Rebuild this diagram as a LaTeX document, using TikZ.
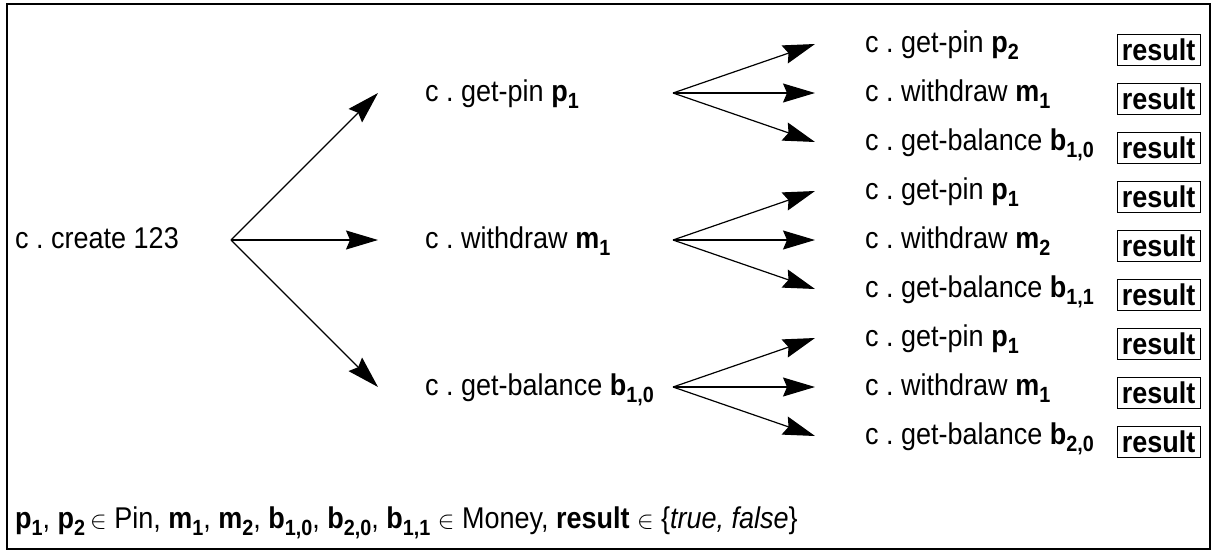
\documentclass[tikz,border=0pt]{standalone}
\usepackage{fontspec}
\setmainfont{Liberation Sans}[FakeStretch=0.9]
\usetikzlibrary{positioning,arrows.meta,calc}

\newcommand{\bsub}[2]{\textbf{#1\raisebox{-7pt}{\fontsize{22}{24}\selectfont #2}}}

\begin{document}
\frenchspacing
\begin{tikzpicture}[
    x=1pt, y=-1pt,
    font=\fontsize{30}{36}\selectfont,
    call/.style={anchor=west, inner sep=0pt, text height=16pt, text depth=0pt},
    res/.style={draw, line width=1pt, minimum width=83pt, inner xsep=0pt,
                inner ysep=5pt, text height=21pt, text depth=0pt,
                font=\fontsize{30}{36}\selectfont\bfseries},
    link/.style={-{Stealth[length=32pt,width=19pt,inset=4pt]}, line width=1.2pt},
]
\useasboundingbox (0,0) rectangle (1212,552);

% ---- frame ----
\draw[line width=1.2pt] (7,4) rectangle (1210,549);

% ---- root ----
\node[call] (root) at (15,240) {c . create 123};
\coordinate (fan0) at (231,240);

% ---- first level ----
\node[call] (mid1) at (425,93)  {c . get-pin \bsub{p}{1}};
\node[call] (mid2) at (425,240) {c . withdraw \bsub{m}{1}};
\node[call] (mid3) at (425,387) {c . get-balance \bsub{b}{1,0}};

\coordinate (fan1) at (673,93);
\coordinate (fan2) at (673,240);
\coordinate (fan3) at (673,387);

% ---- second level ----
\node[call] (leaf1) at (865,44)  {c . get-pin \bsub{p}{2}};
\node[call] (leaf2) at (865,93)  {c . withdraw \bsub{m}{1}};
\node[call] (leaf3) at (865,142) {c . get-balance \bsub{b}{1,0}};
\node[call] (leaf4) at (865,191) {c . get-pin \bsub{p}{1}};
\node[call] (leaf5) at (865,240) {c . withdraw \bsub{m}{2}};
\node[call] (leaf6) at (865,289) {c . get-balance \bsub{b}{1,1}};
\node[call] (leaf7) at (865,338) {c . get-pin \bsub{p}{1}};
\node[call] (leaf8) at (865,387) {c . withdraw \bsub{m}{1}};
\node[call] (leaf9) at (865,436) {c . get-balance \bsub{b}{2,0}};

% ---- result boxes ----
\node[res] (res1) at (1158.5,49.5)  {result};
\node[res] (res2) at (1158.5,98.5)  {result};
\node[res] (res3) at (1158.5,147.5) {result};
\node[res] (res4) at (1158.5,196.5) {result};
\node[res] (res5) at (1158.5,245.5) {result};
\node[res] (res6) at (1158.5,294.5) {result};
\node[res] (res7) at (1158.5,343.5) {result};
\node[res] (res8) at (1158.5,392.5) {result};
\node[res] (res9) at (1158.5,441.5) {result};

% ---- links ----
\draw[link] (fan0) -- ($(mid1.west)+(-47,0)$);
\draw[link] (fan0) -- ($(mid2.west)+(-47,0)$);
\draw[link] (fan0) -- ($(mid3.west)+(-47,0)$);

\draw[link] (fan1) -- ($(leaf1.west)+(-50,0)$);
\draw[link] (fan1) -- ($(leaf2.west)+(-50,0)$);
\draw[link] (fan1) -- ($(leaf3.west)+(-50,0)$);
\draw[link] (fan2) -- ($(leaf4.west)+(-50,0)$);
\draw[link] (fan2) -- ($(leaf5.west)+(-50,0)$);
\draw[link] (fan2) -- ($(leaf6.west)+(-50,0)$);
\draw[link] (fan3) -- ($(leaf7.west)+(-50,0)$);
\draw[link] (fan3) -- ($(leaf8.west)+(-50,0)$);
\draw[link] (fan3) -- ($(leaf9.west)+(-50,0)$);

% ---- legend ----
\node[anchor=base west, inner sep=0pt] (legend) at (15,528)
    {\bsub{p}{1}, \bsub{p}{2}\,$\in$ Pin, \bsub{m}{1}, \bsub{m}{2}, \bsub{b}{1,0},
     \bsub{b}{2,0}, \bsub{b}{1,1} $\in$ Money, \textbf{result} $\in$ \{\textit{true, false}\}};

\end{tikzpicture}
\end{document}
